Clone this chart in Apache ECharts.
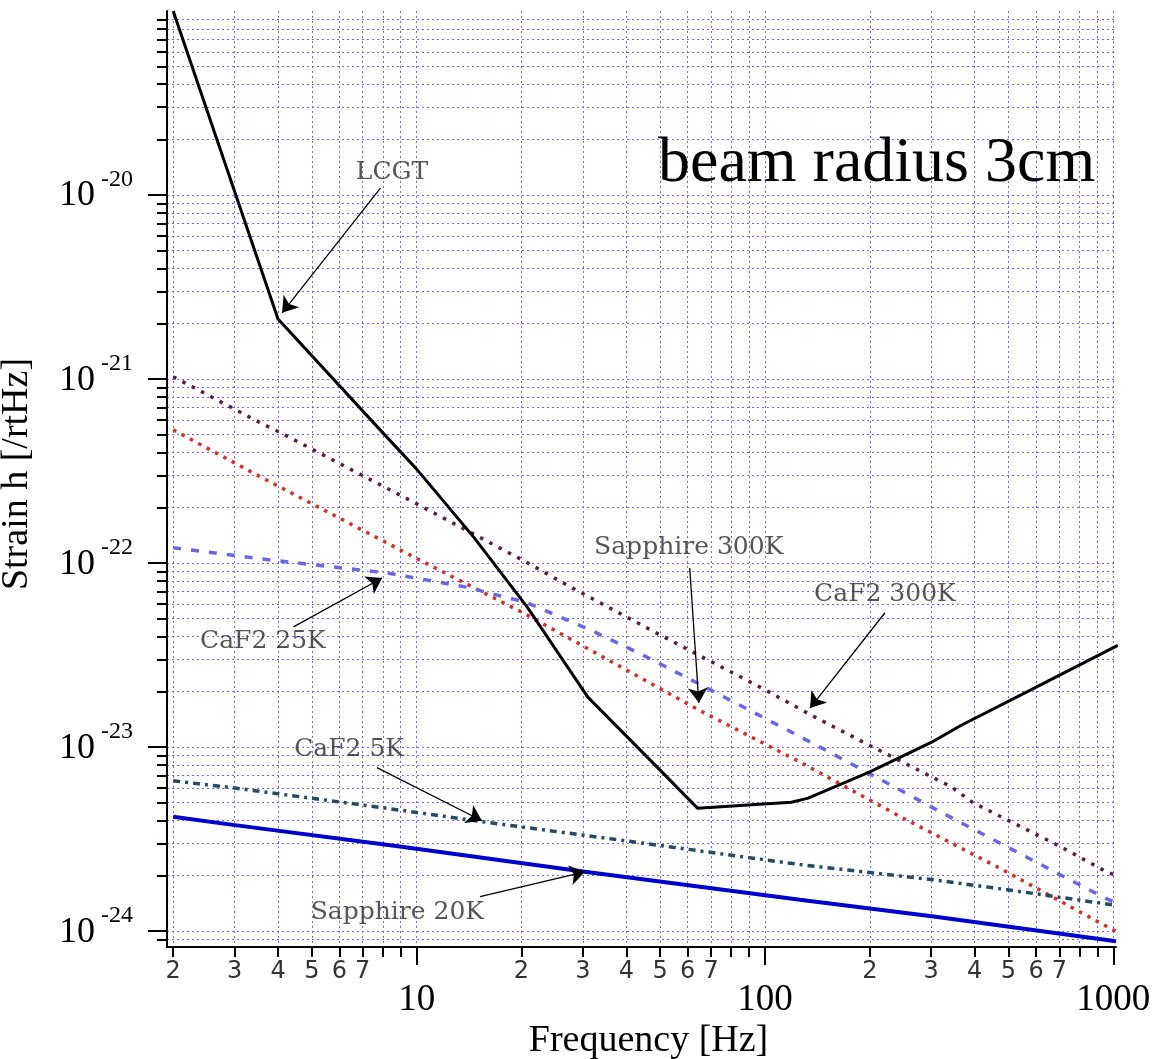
<!DOCTYPE html>
<html><head><meta charset="utf-8">
<script src="https://cdn.jsdelivr.net/npm/echarts@6/dist/echarts.min.js"></script>
<style>html,body{margin:0;padding:0;background:#fff}#c{width:1153px;height:1059px}</style>
</head><body><div id="c"></div>
<script>
// ---- data ----
const lcgtFreq   = [2, 4, 8, 10, 14.6, 20.8, 31, 50, 64, 119, 133, 200, 300, 365, 593, 1030];
const lcgtStrain = [1.0e-19, 2.12e-21, 5.1e-22, 3.24e-22, 1.38e-22, 5.74e-23, 1.87e-23, 7.5e-24, 4.66e-24, 5.02e-24, 5.28e-24, 7.33e-24, 1.06e-23, 1.31e-23, 2.09e-23, 3.57e-23];

const caf2_300Freq   = [2, 3.55, 4.1, 10, 20.3, 27, 50, 100, 135, 200, 343, 395, 700, 944, 1018];
const caf2_300Strain = [1.03e-21, 5.8e-22, 5.07e-22, 2.1e-22, 1.03e-22, 7.6e-23, 4.07e-23, 2.05e-23, 1.5e-23, 1.02e-23, 6.08e-24, 5.0e-24, 2.9e-24, 2.13e-24, 2.0e-24];

const sap300Freq   = [2, 3.55, 10, 20.2, 64.2, 126, 244, 472, 993, 1018];
const sap300Strain = [5.3e-22, 2.95e-22, 1.06e-22, 5.37e-23, 1.6e-23, 8.3e-24, 4.2e-24, 2.2e-24, 1.02e-24, 1.0e-24];

const caf2_25Freq   = [2, 3.8, 8.2, 13.9, 20.7, 31.8, 45.6, 68, 150, 330, 713, 930, 1018];
const caf2_25Strain = [1.21e-22, 1.04e-22, 8.85e-23, 7.4e-23, 6.1e-23, 4.3e-23, 3.1e-23, 2.1e-23, 9.6e-24, 4.3e-24, 2.0e-24, 1.54e-24, 1.42e-24];

const caf2_5Freq   = [2, 2.97, 8.02, 15.5, 41.7, 126, 305, 496, 993, 1018];
const caf2_5Strain = [6.56e-24, 6.01e-24, 4.68e-24, 3.93e-24, 3.06e-24, 2.3e-24, 1.9e-24, 1.68e-24, 1.39e-24, 1.38e-24];

const sap20Freq   = [2, 2.97, 8.95, 30.4, 126, 305, 993, 1018];
const sap20Strain = [4.18e-24, 3.78e-24, 2.88e-24, 2.1e-24, 1.48e-24, 1.2e-24, 8.87e-25, 8.8e-25];

// annotations: label text, label centre (data space), arrow start / arrow tip (data space)
const annText  = ['LCGT', 'CaF2 25K', 'CaF2 5K', 'Sapphire 20K', 'Sapphire 300K', 'CaF2 300K'];
const annFreq  = [8.5, 3.62, 6.4, 8.8, 60.4, 221];
const annStrain= [1.33e-20, 3.73e-23, 9.66e-24, 1.26e-24, 1.21e-22, 6.71e-23];
const arrowFrom= [[7.87, 1.09e-20], [4.43, 4.5e-23], [7.69, 7.73e-24], [15.2, 1.54e-24], [60.8, 9.4e-23], [221, 5.37e-23]];
const arrowTo  = [[4.11, 2.29e-21], [7.96, 8.3e-23], [15.4, 3.98e-24], [30.4, 2.1e-24], [64.6, 1.74e-23], [134.7, 1.63e-23]];

// axis ticks
const mantissas   = [1, 2, 3, 4, 5, 6, 7, 8, 9];
const xDecades    = [1, 10, 100, 1000];
const yDecadeExps = [-25, -24, -23, -22, -21, -20];
const xMinorLabelVals = [2, 3, 4, 5, 6, 7, 20, 30, 40, 50, 60, 70, 200, 300, 400, 500, 600, 700];
const xMajorVals = [10, 100, 1000];
const yMajorVals = [1e-24, 1e-23, 1e-22, 1e-21, 1e-20];

const X_MIN = 1.92, X_MAX = 1018, Y_MIN = 8.2e-25, Y_MAX = 1e-19;

// ---- build ----
const xTickVals = [];
xDecades.forEach(d => mantissas.forEach(m => { const v = +(m * d).toPrecision(6); if (v >= 2 && v <= 1000) xTickVals.push(v); }));
const yTickVals = [];
yDecadeExps.forEach(e => mantissas.forEach(m => { const v = +(m * Math.pow(10, e)).toPrecision(6); if (v >= 9e-25 && v <= 9.5e-20) yTickVals.push(v); }));

const zip = (a, b) => a.map((v, i) => [v, b[i]]);
const gridColor = '#7468d4';
const serif = 'Liberation Serif';

function lineSeries(name, fx, fy, color, width, type, z) {
  return { name, type: 'line', data: zip(fx, fy), showSymbol: false, symbol: 'none', z: z || 3,
    lineStyle: { color, width, type, cap: 'butt' }, clip: true, silent: true, animation: false };
}

const option = {
  animation: false,
  backgroundColor: '#fff',
  title: { text: 'beam radius 3cm', left: 653, top: 127,
    textStyle: { fontFamily: serif, fontSize: 64, fontWeight: 'normal', color: '#000' } },
  grid: { left: 167, right: 37, top: 11, bottom: 112, containLabel: false, outerBoundsMode: 'none' },
  xAxis: [
    { type: 'log', logBase: 10, min: X_MIN, max: X_MAX, position: 'bottom',
      name: 'Frequency [Hz]', nameLocation: 'middle', nameGap: 75,
      nameTextStyle: { fontFamily: serif, fontSize: 38, color: '#000', padding: [0, 0, 0, 14] },
      axisLine: { show: true, lineStyle: { color: '#000', width: 2 } },
      axisTick: { show: true, length: 10, customValues: xTickVals, lineStyle: { color: '#000', width: 2 } },
      axisLabel: { show: true, customValues: xMinorLabelVals, margin: 13,
        fontFamily: 'DejaVu Sans', fontSize: 24, color: '#333',
        formatter: v => String(Math.round(v / Math.pow(10, Math.floor(Math.log10(v) + 1e-9)))) },
      splitLine: { show: true, lineStyle: { color: gridColor, width: 1, type: [2, 3] } },
      minorTick: { show: false }, minorSplitLine: { show: false } },
    { type: 'log', logBase: 10, min: X_MIN, max: X_MAX, position: 'bottom', gridIndex: 0,
      axisLine: { show: false },
      axisTick: { show: true, length: 18, customValues: xMajorVals, lineStyle: { color: '#000', width: 2 } },
      axisLabel: { show: true, customValues: xMajorVals, margin: 35,
        fontFamily: serif, fontSize: 37, color: '#000', formatter: v => String(Math.round(v)) },
      splitLine: { show: false } }
  ],
  yAxis: [
    { type: 'log', logBase: 10, min: Y_MIN, max: Y_MAX, position: 'left',
      name: 'Strain h [/rtHz]', nameLocation: 'middle', nameGap: 131, nameRotate: 90,
      nameTextStyle: { fontFamily: serif, fontSize: 38, color: '#000', padding: [0, 0, 0, 10] },
      axisLine: { show: true, lineStyle: { color: '#000', width: 2 } },
      axisTick: { show: true, length: 10, customValues: yTickVals, lineStyle: { color: '#000', width: 2 } },
      axisLabel: { show: false },
      splitLine: { show: true, lineStyle: { color: gridColor, width: 1, type: [2, 3] } } },
    { type: 'log', logBase: 10, min: Y_MIN, max: Y_MAX, position: 'left', gridIndex: 0,
      axisLine: { show: false },
      axisTick: { show: true, length: 19, customValues: yMajorVals, lineStyle: { color: '#000', width: 2 } },
      axisLabel: { show: true, customValues: yMajorVals, margin: 34,
        formatter: v => '{b|10}{e|' + Math.round(Math.log10(v)) + '}',
        rich: {
          b: { fontFamily: serif, fontSize: 36, color: '#000', verticalAlign: 'bottom', lineHeight: 38 },
          e: { fontFamily: serif, fontSize: 24, color: '#000', verticalAlign: 'bottom', lineHeight: 24, padding: [0, 0, 22, 6] }
        } },
      splitLine: { show: false } }
  ],
  series: [
    lineSeries('CaF2 300K', caf2_300Freq, caf2_300Strain, '#56203f', 3.5, [3.5, 7]),
    lineSeries('Sapphire 300K', sap300Freq, sap300Strain, '#cc3232', 3.5, [3.5, 6]),
    lineSeries('CaF2 25K', caf2_25Freq, caf2_25Strain, '#6a68e0', 3.5, [8, 10]),
    lineSeries('CaF2 5K', caf2_5Freq, caf2_5Strain, '#284a5e', 3.5, [7, 5, 3, 5]),
    lineSeries('Sapphire 20K', sap20Freq, sap20Strain, '#0000cd', 4, 'solid'),
    lineSeries('LCGT', lcgtFreq, lcgtStrain, '#000000', 3, 'solid', 5),
    { name: 'annotations', type: 'scatter', silent: true, z: 6, animation: false,
      symbolSize: 1, itemStyle: { color: 'rgba(0,0,0,0)' },
      data: annText.map((t, i) => ({ name: t, value: [annFreq[i], annStrain[i]] })),
      label: { show: true, position: 'inside', formatter: '{b}',
        fontFamily: 'DejaVu Serif', fontSize: 25, color: '#2a2a2a' },
      markLine: { silent: true, animation: false, symbol: ['none', 'arrow'], symbolSize: 15,
        label: { show: false },
        lineStyle: { color: '#000', width: 1.3, type: 'solid' },
        data: arrowFrom.map((p, i) => [{ coord: p }, { coord: arrowTo[i] }]) } }
  ]
};

const chart = echarts.init(document.getElementById('c'), null, { renderer: 'canvas' });
chart.setOption(option);
</script>
</body></html>
